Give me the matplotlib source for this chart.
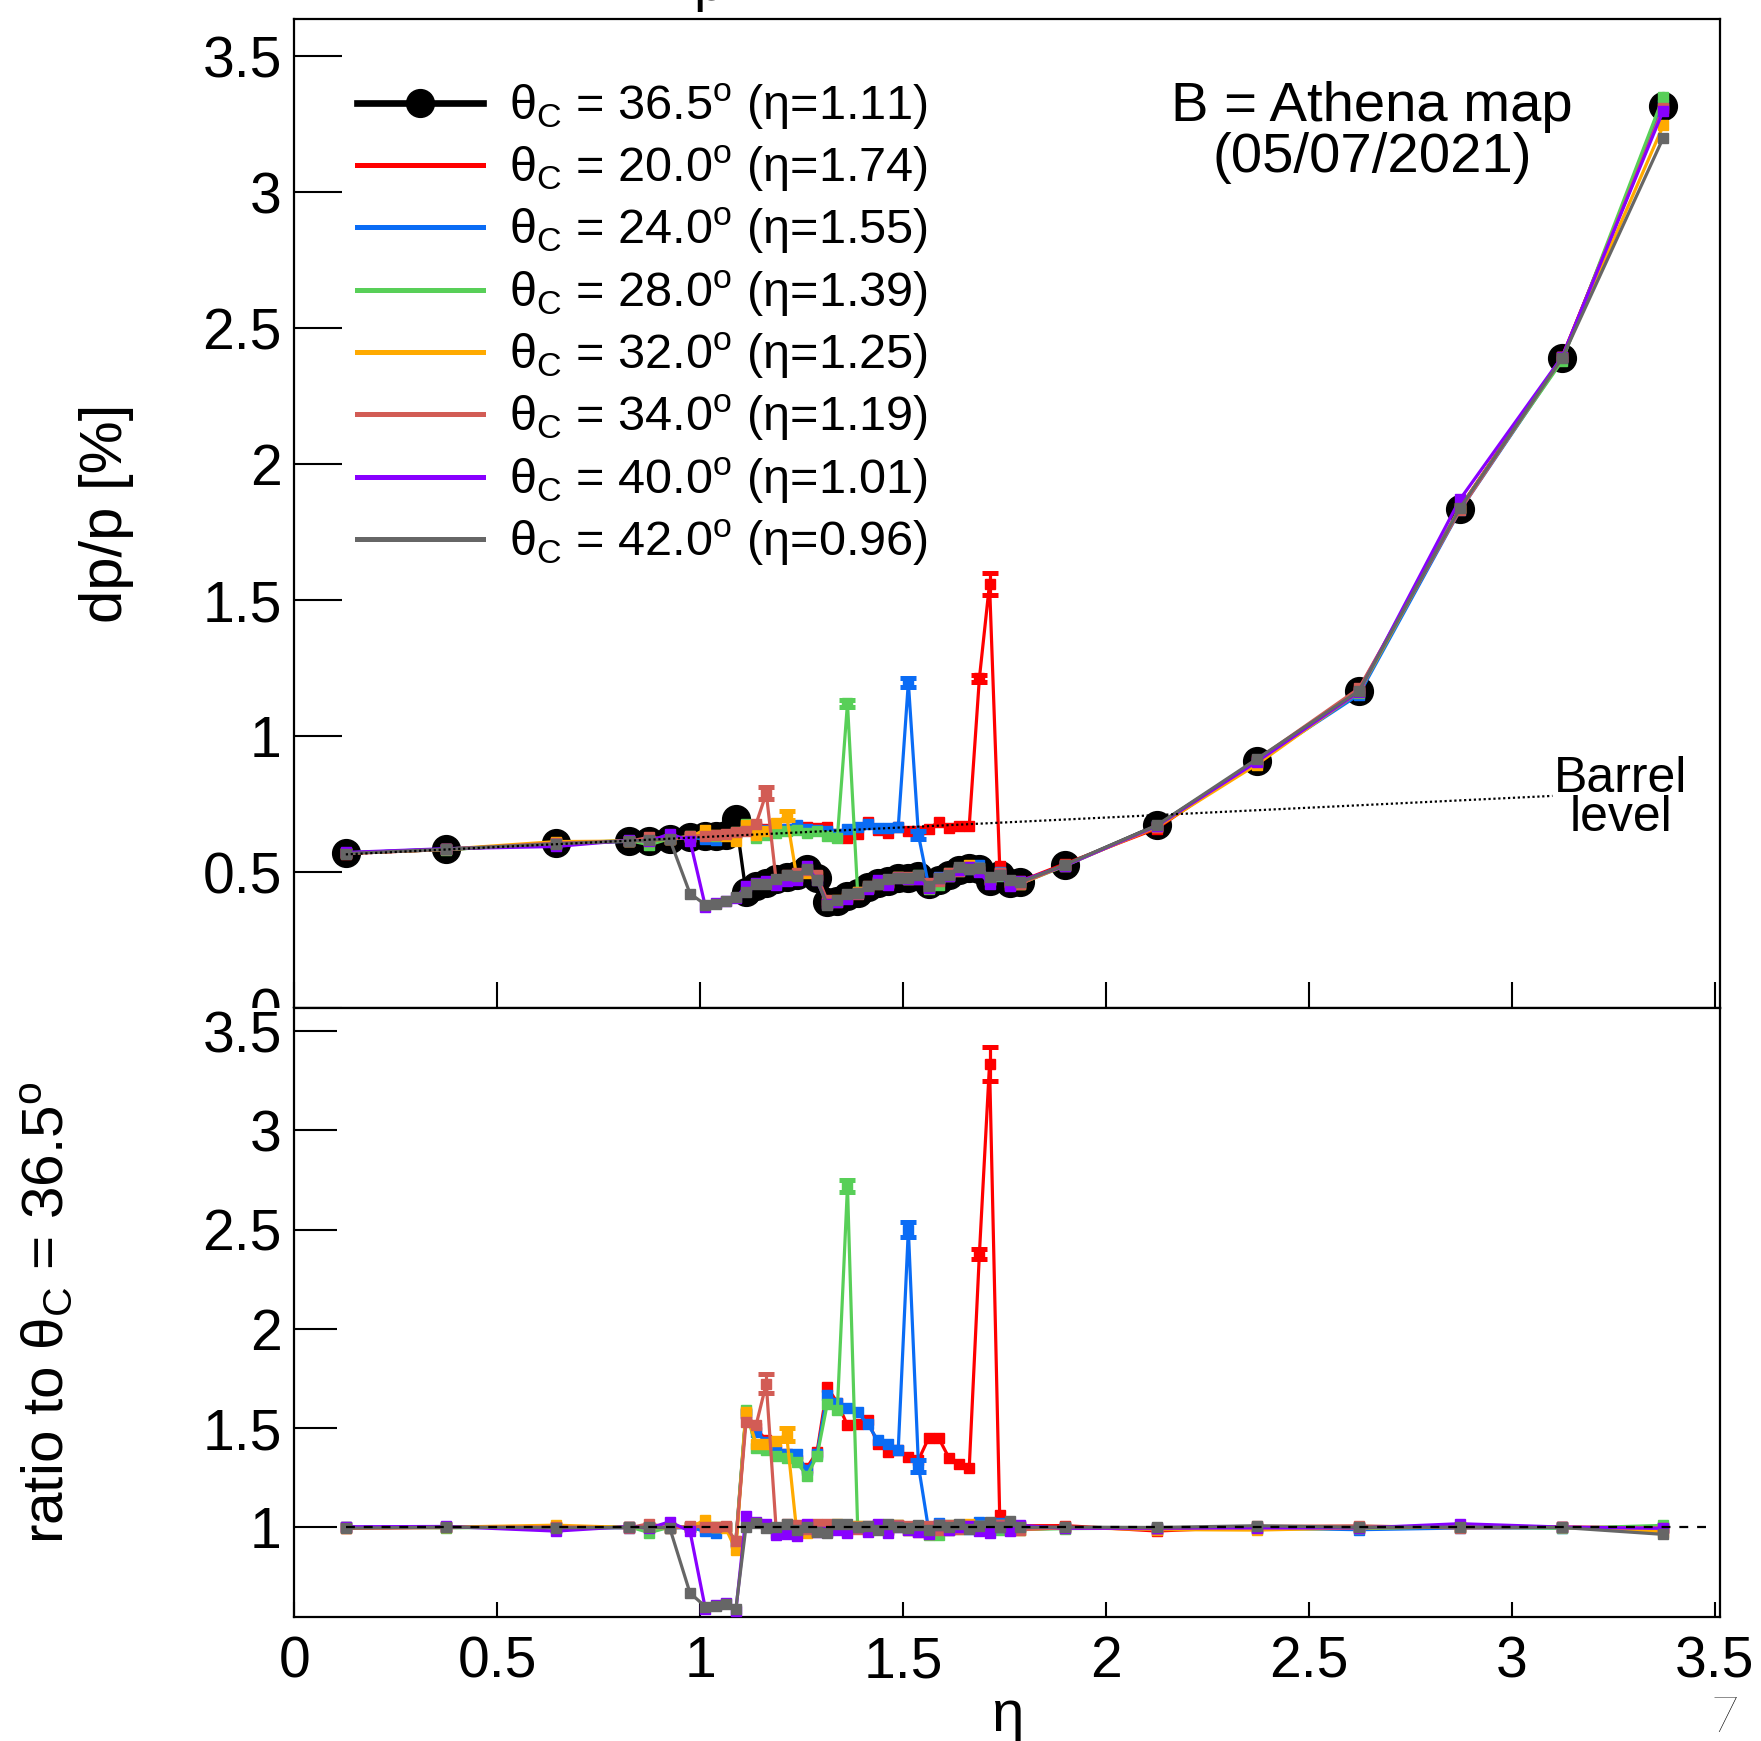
import numpy as np
import matplotlib
matplotlib.use('Agg')
from matplotlib import pyplot as plt
from matplotlib import ticker
from matplotlib.patches import Rectangle

plt.rcParams['font.family'] = ['Liberation Sans', 'DejaVu Sans']
plt.rcParams['mathtext.fontset'] = 'custom'
plt.rcParams['mathtext.rm'] = 'Liberation Sans'
plt.rcParams['mathtext.it'] = 'Liberation Sans'
plt.rcParams['mathtext.default'] = 'rm'

# eta bins
eta = [0.127, 0.374, 0.645, 0.825, 0.875, 0.925, 0.975,
       1.013, 1.038, 1.063, 1.088, 1.113, 1.138, 1.163, 1.188, 1.213, 1.238,
       1.263, 1.288, 1.313, 1.338, 1.363, 1.388, 1.413, 1.438, 1.463, 1.488,
       1.513, 1.538, 1.563, 1.588, 1.613, 1.638, 1.663, 1.688, 1.713, 1.738,
       1.763, 1.788, 1.898, 2.125, 2.371, 2.623, 2.872, 3.124, 3.373]

# dp/p [%] for each theta_C
dp_365 = [0.570, 0.583, 0.605, 0.614, 0.616, 0.622, 0.628,
          0.632, 0.634, 0.636, 0.695, 0.425, 0.447, 0.458, 0.473, 0.482, 0.491,
          0.512, 0.479, 0.390, 0.393, 0.412, 0.422, 0.445, 0.460, 0.466, 0.478,
          0.479, 0.485, 0.455, 0.472, 0.490, 0.508, 0.515, 0.510, 0.468, 0.490,
          0.458, 0.462, 0.525, 0.672, 0.907, 1.165, 1.835, 2.390, 3.315]
dp_200 = [0.568, 0.583, 0.606, 0.615, 0.617, 0.622, 0.630,
          0.635, 0.633, 0.638, 0.645, 0.671, 0.670, 0.659, 0.657, 0.660, 0.658,
          0.666, 0.661, 0.666, 0.640, 0.624, 0.641, 0.685, 0.653, 0.643, 0.664,
          0.650, 0.650, 0.660, 0.684, 0.662, 0.671, 0.670, 1.212, 1.560, 0.522,
          0.458, 0.466, 0.530, 0.660, 0.910, 1.170, 1.840, 2.395, 3.310]
dp_240 = [0.570, 0.585, 0.604, 0.613, 0.618, 0.620, 0.628,
          0.620, 0.617, 0.636, 0.642, 0.667, 0.662, 0.655, 0.653, 0.660, 0.673,
          0.660, 0.656, 0.651, 0.640, 0.659, 0.667, 0.676, 0.662, 0.662, 0.664,
          1.197, 0.635, 0.450, 0.482, 0.485, 0.513, 0.510, 0.525, 0.475, 0.500,
          0.453, 0.462, 0.525, 0.668, 0.905, 1.152, 1.830, 2.385, 3.320]
dp_280 = [0.571, 0.582, 0.606, 0.616, 0.600, 0.623, 0.631,
          0.640, 0.634, 0.637, 0.646, 0.676, 0.626, 0.637, 0.643, 0.651, 0.653,
          0.645, 0.651, 0.632, 0.625, 1.120, 0.426, 0.440, 0.465, 0.461, 0.483,
          0.473, 0.488, 0.437, 0.453, 0.495, 0.503, 0.520, 0.515, 0.470, 0.485,
          0.463, 0.457, 0.522, 0.670, 0.900, 1.160, 1.840, 2.380, 3.350]
dp_320 = [0.569, 0.584, 0.612, 0.614, 0.616, 0.621, 0.629,
          0.656, 0.636, 0.634, 0.616, 0.672, 0.636, 0.650, 0.680, 0.708, 0.481,
          0.497, 0.484, 0.388, 0.399, 0.404, 0.426, 0.441, 0.465, 0.462, 0.483,
          0.473, 0.485, 0.441, 0.477, 0.485, 0.513, 0.525, 0.505, 0.475, 0.495,
          0.462, 0.457, 0.525, 0.665, 0.895, 1.163, 1.838, 2.392, 3.245]
dp_340 = [0.570, 0.583, 0.607, 0.613, 0.628, 0.620, 0.632,
          0.634, 0.636, 0.640, 0.647, 0.650, 0.678, 0.790, 0.459, 0.490, 0.496,
          0.507, 0.488, 0.396, 0.391, 0.412, 0.418, 0.449, 0.456, 0.461, 0.483,
          0.483, 0.475, 0.459, 0.467, 0.495, 0.503, 0.520, 0.515, 0.472, 0.495,
          0.453, 0.457, 0.524, 0.667, 0.912, 1.175, 1.830, 2.392, 3.310]
dp_400 = [0.572, 0.586, 0.594, 0.617, 0.614, 0.640, 0.616,
          0.373, 0.386, 0.393, 0.403, 0.450, 0.460, 0.467, 0.454, 0.466, 0.471,
          0.522, 0.469, 0.382, 0.389, 0.400, 0.422, 0.436, 0.469, 0.452, 0.478,
          0.473, 0.475, 0.441, 0.477, 0.485, 0.508, 0.520, 0.500, 0.455, 0.490,
          0.449, 0.467, 0.523, 0.670, 0.905, 1.162, 1.870, 2.395, 3.300]
dp_420 = [0.568, 0.584, 0.604, 0.614, 0.617, 0.621, 0.421,
          0.380, 0.384, 0.392, 0.410, 0.427, 0.456, 0.456, 0.473, 0.490, 0.486,
          0.512, 0.469, 0.380, 0.399, 0.420, 0.422, 0.449, 0.455, 0.475, 0.478,
          0.478, 0.490, 0.450, 0.477, 0.490, 0.518, 0.510, 0.515, 0.480, 0.490,
          0.472, 0.462, 0.526, 0.672, 0.915, 1.166, 1.838, 2.390, 3.200]

# errors only where they show (bin index : error)
err_200 = {34: 0.012, 35: 0.040}
err_240 = {27: 0.018, 28: 0.015}
err_280 = {21: 0.012}
err_320 = {15: 0.015}
err_340 = {13: 0.022}

# barrel level and ratio reference lines
barrel_eta = [0.127, 3.10]
barrel_dp = [0.565, 0.780]
unity_eta = [0.127, 3.48]
unity_val = [1.0, 1.0]

series = [
    (r'θ$_{C}$ = 20.0$^{o}$ (η=1.74)', '#ff0000', dp_200, err_200),
    (r'θ$_{C}$ = 24.0$^{o}$ (η=1.55)', '#0a6cf5', dp_240, err_240),
    (r'θ$_{C}$ = 28.0$^{o}$ (η=1.39)', '#58cf58', dp_280, err_280),
    (r'θ$_{C}$ = 32.0$^{o}$ (η=1.25)', '#ffaa00', dp_320, err_320),
    (r'θ$_{C}$ = 34.0$^{o}$ (η=1.19)', '#d25c55', dp_340, err_340),
    (r'θ$_{C}$ = 40.0$^{o}$ (η=1.01)', '#8800ff', dp_400, {}),
    (r'θ$_{C}$ = 42.0$^{o}$ (η=0.96)', '#666666', dp_420, {}),
]

fig = plt.figure(figsize=(17.61, 17.41), dpi=100)
ax1 = fig.add_axes([0.1671, 0.4210, 0.8099, 0.5680])
ax2 = fig.add_axes([0.1671, 0.0712, 0.8099, 0.3498])
ax1.set_zorder(1)
ax2.set_zorder(2)
# bottom pad hides the lower half of the "0" label, as in the original
fig.add_artist(Rectangle((0, 0), 0.1671, 0.4210, transform=fig.transFigure,
                         facecolor='white', edgecolor='none', zorder=1.5))

ref = np.array(dp_365)
ax1.plot(eta, dp_365, color='black', lw=2.4, marker='o', ms=20, zorder=2,
         label=r'θ$_{C}$ = 36.5$^{o}$ (η=1.11)')

for k, (lab, col, y, err) in enumerate(series):
    z = 3 + 0.1 * k
    y = np.array(y)
    ax1.plot(eta, y, color=col, lw=2.3, marker='s', ms=7, zorder=z, label=lab)
    ax2.plot(eta, y / ref, color=col, lw=2.3, marker='s', ms=7, zorder=z)
    for i, e in err.items():
        ax1.errorbar([eta[i]], [y[i]], yerr=[e], fmt='none', ecolor=col,
                     elinewidth=2.3, capsize=6, capthick=3.6, zorder=z)
        ax2.errorbar([eta[i]], [y[i] / ref[i]], yerr=[e / ref[i]], fmt='none',
                     ecolor=col, elinewidth=2.3, capsize=6, capthick=3.6, zorder=z)

ax1.plot(barrel_eta, barrel_dp, color='black', lw=1.6, ls=(0, (1, 1.2)), zorder=10)
ax2.plot(unity_eta, unity_val, color='black', lw=1.6, ls=(0, (4, 4)), zorder=10)

ax1.set_xlim(0, 3.514)
ax2.set_xlim(0, 3.514)
ax1.set_ylim(0, 3.636)
ax2.set_ylim(0.549, 3.616)

for ax in (ax1, ax2):
    ax.xaxis.set_major_locator(ticker.MultipleLocator(0.5))
    ax.yaxis.set_major_locator(ticker.MultipleLocator(0.5))
    ax.xaxis.set_major_formatter(ticker.FormatStrFormatter('%g'))
    ax.yaxis.set_major_formatter(ticker.FormatStrFormatter('%g'))
    ax.tick_params(direction='in', width=1.5, labelsize=41, top=False, right=False)
    for sp in ax.spines.values():
        sp.set_linewidth(1.6)

ax1.tick_params(axis='y', length=34.5, pad=9)
ax1.tick_params(axis='x', length=19, labelbottom=False)
ax2.tick_params(axis='y', length=31, pad=9)
ax2.tick_params(axis='x', length=11, pad=13)

ax1.set_ylabel('dp/p [%]', fontsize=43, va='center', ha='center')
ax1.yaxis.set_label_coords(-0.1313, 0.5)
ax2.set_ylabel(r'ratio to θ$_{C}$ = 36.5$^{o}$', fontsize=42, va='center', ha='center')
ax2.yaxis.set_label_coords(-0.1734, 0.5)
ax2.set_xlabel('η', fontsize=42, va='center')
ax2.xaxis.set_label_coords(0.5, -0.163)

leg = ax1.legend(loc='upper left', bbox_to_anchor=(0.044, 0.937), frameon=False,
                 fontsize=35, handlelength=2.59, handletextpad=0.53,
                 labelspacing=0.245, borderpad=0, borderaxespad=0)
for k, ln in enumerate(leg.get_lines()):
    if k == 0:
        ln.set_linewidth(4.8)
    else:
        ln.set_marker('')
        ln.set_linewidth(3.6)

ax1.text(0.7556, 0.8969, 'B = Athena map', transform=ax1.transAxes,
         ha='center', va='baseline', fontsize=40.5)
ax1.text(0.7556, 0.8453, '(05/07/2021)', transform=ax1.transAxes,
         ha='center', va='baseline', fontsize=40.5)
ax1.text(0.930, 0.2186, 'Barrel', transform=ax1.transAxes,
         ha='center', va='baseline', fontsize=36)
ax1.text(0.930, 0.179, 'level', transform=ax1.transAxes,
         ha='center', va='baseline', fontsize=36)

# clipped title fragment at the very top and the page number
fig.text(0.3937, 1.0, 'p', fontsize=40, ha='left', va='baseline')
fig.text(0.9796, 0.0052, '7', fontsize=35, fontweight='light',
         family=['Lato', 'DejaVu Sans'], ha='center', va='baseline')

fig.savefig('out.png', dpi=100)
